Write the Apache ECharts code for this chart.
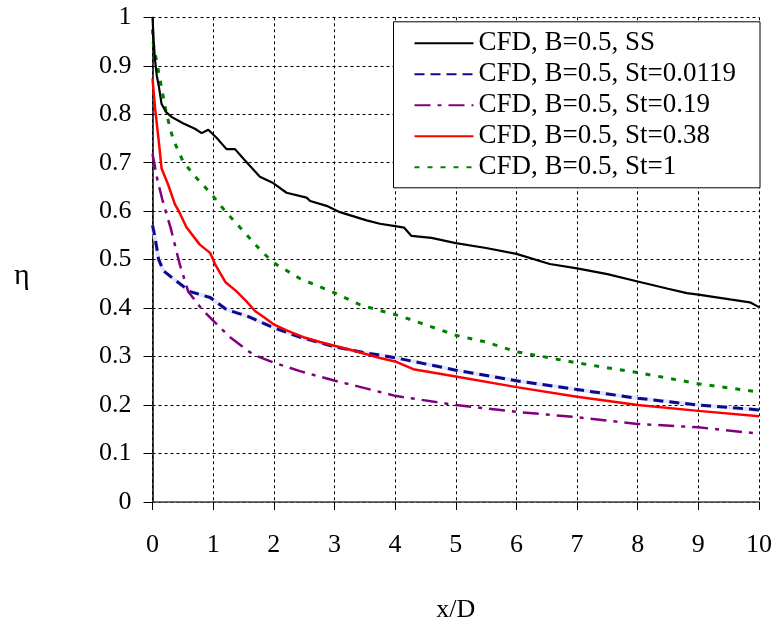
<!DOCTYPE html>
<html>
<head>
<meta charset="utf-8">
<script src="https://cdn.jsdelivr.net/npm/echarts@6/dist/echarts.min.js"></script>
<style>
  html, body { margin: 0; padding: 0; background: #fff; }
  #main { width: 777px; height: 628px; }
</style>
</head>
<body>
<div id="main"></div>
<script>
// legend names
var names = ['CFD, B=0.5, SS', 'CFD, B=0.5, St=0.0119', 'CFD, B=0.5, St=0.19', 'CFD, B=0.5, St=0.38', 'CFD, B=0.5, St=1'];

// [x/D, eta]
var ssData = [[0,1.0],[0.02,0.95],[0.04,0.914],[0.07,0.88],[0.10,0.861],[0.15,0.821],[0.22,0.805],[0.32,0.794],[0.51,0.781],[0.7,0.77],[0.81,0.761],[0.92,0.768],[1.06,0.751],[1.22,0.728],[1.36,0.728],[1.5,0.708],[1.77,0.671],[1.99,0.658],[2.21,0.638],[2.54,0.628],[2.6,0.621],[2.87,0.611],[3.09,0.598],[3.53,0.581],[3.75,0.574],[4.0,0.569],[4.15,0.566],[4.27,0.549],[4.6,0.545],[5,0.534],[5.5,0.524],[6,0.512],[6.55,0.491],[7,0.482],[7.5,0.47],[8,0.455],[8.5,0.44],[8.81,0.431],[9,0.428],[9.52,0.418],[9.85,0.412],[10,0.402]];
var st0119Data = [[0,0.571],[0.04,0.547],[0.1,0.501],[0.18,0.477],[0.34,0.461],[0.62,0.434],[0.95,0.422],[1.22,0.397],[1.55,0.384],[1.99,0.36],[2.43,0.34],[3.01,0.32],[3.5,0.308],[4.03,0.297],[5,0.272],[6,0.25],[7,0.232],[8,0.214],[9,0.2],[10,0.19]];
var st019Data = [[0,0.718],[0.08,0.665],[0.16,0.625],[0.3,0.565],[0.45,0.49],[0.59,0.434],[0.8,0.4],[1.0,0.374],[1.28,0.34],[1.66,0.304],[1.99,0.288],[2.43,0.27],[3.01,0.25],[3.37,0.239],[3.75,0.227],[4,0.219],[5,0.2],[6,0.186],[7,0.175],[8,0.161],[9,0.154],[10,0.141]];
var st038Data = [[0,0.874],[0.04,0.815],[0.1,0.748],[0.15,0.688],[0.26,0.654],[0.37,0.614],[0.43,0.601],[0.56,0.567],[0.78,0.531],[0.95,0.514],[1.03,0.491],[1.2,0.454],[1.39,0.434],[1.55,0.414],[1.69,0.394],[1.85,0.38],[1.99,0.367],[2.21,0.354],[2.49,0.34],[2.76,0.33],[3.26,0.314],[3.75,0.297],[4,0.29],[4.3,0.274],[5,0.259],[6,0.237],[7,0.217],[8,0.2],[9,0.188],[10,0.177]];
var st1Data = [[0,0.975],[0.01,0.948],[0.07,0.908],[0.15,0.854],[0.23,0.801],[0.34,0.748],[0.51,0.701],[0.73,0.668],[0.98,0.634],[1.2,0.6],[1.44,0.567],[1.77,0.521],[1.99,0.494],[2.43,0.461],[3.01,0.431],[3.42,0.407],[3.75,0.395],[4.08,0.384],[5,0.344],[5.5,0.33],[6,0.31],[7,0.287],[8,0.267],[9,0.244],[10,0.227]];

var font = 'Liberation Serif, Times New Roman, serif';

var chart = echarts.init(document.getElementById('main'));

function line(name, data, color, width, dash, z) {
    return {
        name: name,
        type: 'line',
        data: data,
        symbol: 'none',
        z: z || 2,
        lineStyle: { color: color, width: width, type: dash || 'solid' },
        itemStyle: { color: color }
    };
}

var option = {
    animation: false,
    backgroundColor: '#fff',
    grid: { left: 152.5, right: 18, top: 17.3, bottom: 111.3, containLabel: false },
    // y axis title sits a little below the axis middle
    graphic: [{
        type: 'text',
        left: 14,
        top: 261,
        style: { text: 'η', fontFamily: font, fontSize: 30, fill: '#000' }
    }],
    legend: {
        data: names,
        orient: 'vertical',
        left: 393.5,
        top: 21.8,
        padding: [6, 24, 5, 20],
        itemGap: 0,
        itemWidth: 59,
        itemHeight: 14,
        itemStyle: { opacity: 0 },
        backgroundColor: '#fff',
        borderColor: '#000',
        borderWidth: 1,
        borderRadius: 0,
        textStyle: { fontFamily: font, fontSize: 27, color: '#000', lineHeight: 31 }
    },
    xAxis: {
        type: 'value',
        min: 0, max: 10, interval: 1,
        name: 'x/D',
        nameLocation: 'middle',
        nameGap: 95,
        nameTextStyle: { fontFamily: font, fontSize: 26, color: '#000' },
        axisLine: { lineStyle: { color: '#404040', width: 1.5 } },
        axisTick: { inside: false, length: 8, lineStyle: { color: '#000' } },
        axisLabel: { margin: 30, fontFamily: font, fontSize: 26, color: '#000' },
        splitLine: { show: true, lineStyle: { color: '#000', type: [3, 3], width: 1 } }
    },
    yAxis: {
        type: 'value',
        min: 0, max: 1, interval: 0.1,
        axisLine: { show: true, lineStyle: { color: '#000', width: 1.5 } },
        axisTick: { show: true, inside: false, length: 9, lineStyle: { color: '#000' } },
        axisLabel: {
            margin: 21, fontFamily: font, fontSize: 26, color: '#000',
            formatter: function (v) { return String(+v.toFixed(1)); }
        },
        splitLine: { show: true, lineStyle: { color: '#000', type: [3, 3], width: 1 } }
    },
    series: [
        line(names[0], ssData, '#000000', 2.2, 'solid', 5),
        // pale halo under the blue dashes
        line('halo', st0119Data, '#e4e4fa', 4, 'solid', 3),
        line(names[1], st0119Data, '#0a0a8c', 3, [10, 6], 4),
        line(names[2], st019Data, '#800080', 2.5, [16, 7, 4, 7], 4),
        line(names[3], st038Data, '#ff0000', 2.5, 'solid', 4),
        line(names[4], st1Data, '#008000', 3, [5, 8], 4)
    ]
};
chart.setOption(option);
</script>
</body>
</html>
